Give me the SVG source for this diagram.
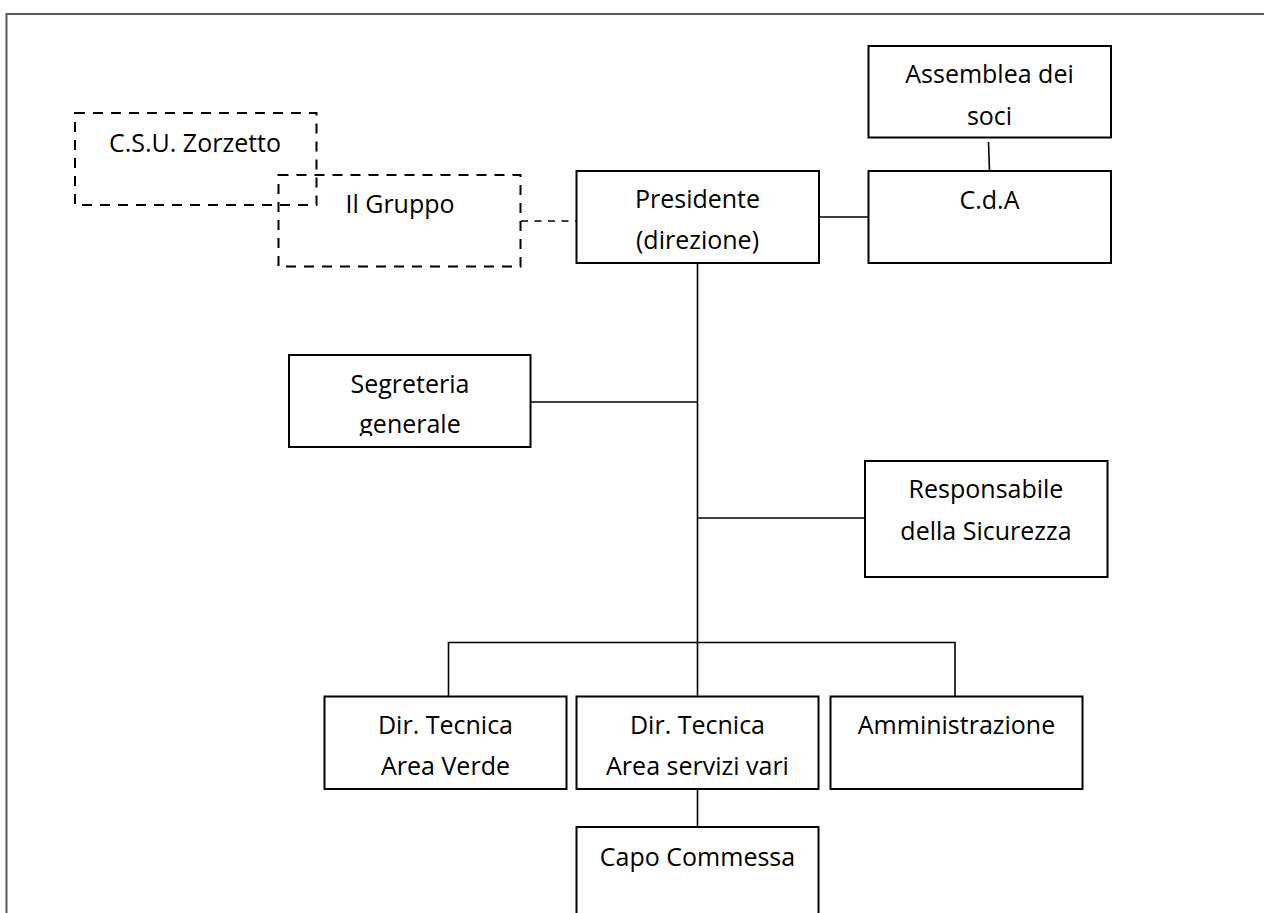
<svg xmlns="http://www.w3.org/2000/svg" width="1264" height="913" viewBox="0 0 1264 913">
  <defs>
    <style>
      .box { fill: none; stroke: #000; stroke-width: 2; }
      .dbox { fill: none; stroke: #000; stroke-width: 2; stroke-dasharray: 10 8; }
      .ln { fill: none; stroke: #000; stroke-width: 1.6; }
      .dln { fill: none; stroke: #000; stroke-width: 1.6; stroke-dasharray: 7 6.5; }
      .t { font-family: "Open Sans", "Liberation Sans", sans-serif; font-size: 25px; fill: #000; text-anchor: middle; }
      .frame { fill: none; stroke: #5a5a5a; stroke-width: 2; }
    </style>
    <clipPath id="clipSeg">
      <rect x="289" y="355" width="242" height="81"/>
    </clipPath>
  </defs>
  <rect x="0" y="0" width="1264" height="913" fill="#fff"/>
  <path class="frame" d="M6.5,913 V14 H1264"/>

  <g id="connectors">
    <line class="dln" x1="521" y1="221" x2="576.5" y2="221"/>
    <line class="ln" x1="819" y1="217" x2="868.5" y2="217"/>
    <line class="ln" x1="988.5" y1="142" x2="989.5" y2="171"/>
    <line class="ln" x1="697.5" y1="263" x2="697.5" y2="696.5"/>
    <line class="ln" x1="530.5" y1="402" x2="697.5" y2="402"/>
    <line class="ln" x1="697.5" y1="518" x2="865" y2="518"/>
    <polyline class="ln" points="448.5,696.5 448.5,642.5 955,642.5 955,696.5"/>
    <line class="ln" x1="697.5" y1="789" x2="697.5" y2="827"/>
  </g>

  <g id="csu-zorzetto">
    <rect class="dbox" x="75" y="113" width="241.5" height="92"/>
    <text class="t" x="195" y="152">C.S.U. Zorzetto</text>
  </g>
  <g id="il-gruppo">
    <rect class="dbox" x="278.5" y="175" width="242" height="91.5"/>
    <text class="t" x="400" y="213">Il Gruppo</text>
  </g>
  <g id="presidente">
    <rect class="box" x="576.5" y="171" width="242.5" height="92"/>
    <text class="t" x="697.5" y="208">Presidente</text>
    <text class="t" x="697.5" y="249">(direzione)</text>
  </g>
  <g id="assemblea">
    <rect class="box" x="868.5" y="46" width="242.5" height="91.5"/>
    <text class="t" x="989.5" y="83">Assemblea dei</text>
    <text class="t" x="989.5" y="125">soci</text>
  </g>
  <g id="cda">
    <rect class="box" x="868.5" y="171" width="242.5" height="92"/>
    <text class="t" x="989.5" y="209">C.d.A</text>
  </g>
  <g id="segreteria">
    <rect class="box" x="289" y="355" width="241.5" height="92"/>
    <g clip-path="url(#clipSeg)">
      <text class="t" x="410" y="393">Segreteria</text>
      <text class="t" x="410" y="433">generale</text>
    </g>
  </g>
  <g id="responsabile">
    <rect class="box" x="865" y="461" width="242.5" height="116"/>
    <text class="t" x="986" y="498">Responsabile</text>
    <text class="t" x="986" y="540">della Sicurezza</text>
  </g>
  <g id="dir-verde">
    <rect class="box" x="324.5" y="696.5" width="242" height="92.5"/>
    <text class="t" x="445.5" y="734">Dir. Tecnica</text>
    <text class="t" x="445.5" y="775">Area Verde</text>
  </g>
  <g id="dir-servizi">
    <rect class="box" x="576.5" y="696.5" width="242" height="92.5"/>
    <text class="t" x="697.5" y="734">Dir. Tecnica</text>
    <text class="t" x="697.5" y="775">Area servizi vari</text>
  </g>
  <g id="amministrazione">
    <rect class="box" x="830.5" y="696.5" width="252" height="92.5"/>
    <text class="t" x="956.5" y="734">Amministrazione</text>
  </g>
  <g id="capo-commessa">
    <rect class="box" x="576.5" y="827" width="242" height="110"/>
    <text class="t" x="697.5" y="866">Capo Commessa</text>
  </g>
</svg>
